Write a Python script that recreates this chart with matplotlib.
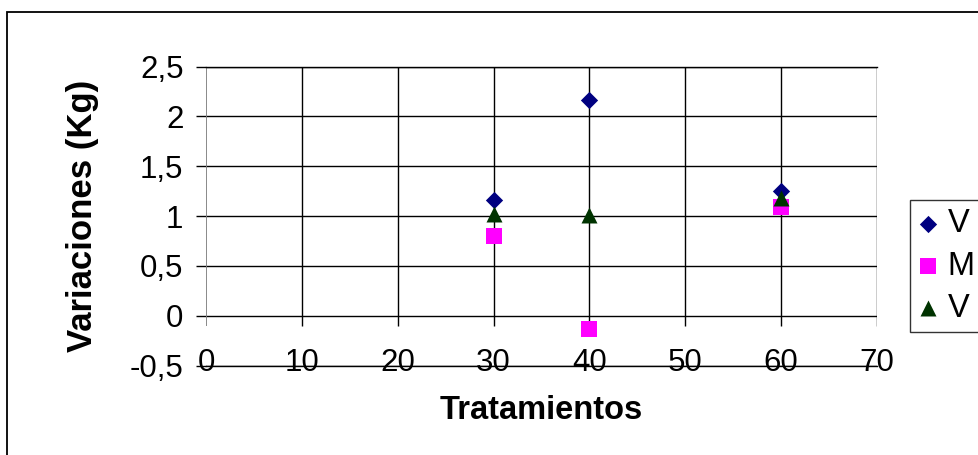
import matplotlib
matplotlib.use('Agg')
import matplotlib.pyplot as plt
from matplotlib.patches import Rectangle
from matplotlib.ticker import FuncFormatter

plt.rcParams['font.family'] = ['Liberation Sans', 'DejaVu Sans']

# Data
tratamientos = [30, 40, 60]
serie_v1 = [1.16, 2.16, 1.25]
serie_m = [0.80, -0.13, 1.09]
serie_v2 = [1.02, 1.01, 1.18]
series_labels = ['V', 'M', 'V']
x_ticks = [0, 10, 20, 30, 40, 50, 60, 70]
y_ticks = [-0.5, 0, 0.5, 1, 1.5, 2, 2.5]

fig = plt.figure(figsize=(9.79, 4.55), dpi=100)
ax = fig.add_axes([0.2104, 0.1967, 0.6854, 0.6571])

ax.set_xlim(0, 70)
ax.set_ylim(-0.5, 2.5)
ax.set_xticks(x_ticks)
ax.set_yticks(y_ticks)

fmt = FuncFormatter(lambda v, p: ('%g' % v).replace('.', ','))
ax.yaxis.set_major_formatter(fmt)
ax.xaxis.set_major_formatter(fmt)

# grid
ax.yaxis.grid(True, color='black', lw=1, zorder=1)
ax.set_axisbelow(True)
ax.vlines(x_ticks[1:], -0.1, 2.5, colors='black', lw=1, zorder=1)
ax.vlines(0, -0.1, 2.5, colors='#808080', lw=1.3, zorder=1)

for s in ['left', 'right']:
    ax.spines[s].set_visible(False)
for s in ['top', 'bottom']:
    ax.spines[s].set_color('black')
    ax.spines[s].set_linewidth(1)

ax.tick_params(axis='y', length=7.2, width=1, color='black', direction='out',
               labelsize=22.5, pad=9)
ax.tick_params(axis='x', length=0, labelsize=22.5, pad=-12.5)

ax.scatter(tratamientos, serie_v1, marker='D', s=8.8**2, color='#000080',
           label=series_labels[0], zorder=3, linewidths=0)
ax.scatter(tratamientos, serie_m, marker='s', s=11.3**2, color='#FF00FF',
           label=series_labels[1], zorder=4, linewidths=0)
ax.scatter(tratamientos, serie_v2, marker='^', s=11.5**2, color='#003300',
           label=series_labels[2], zorder=5, linewidths=0)

ax.set_xlabel('Tratamientos', fontsize=23.5, fontweight='bold', labelpad=12)
ax.set_ylabel('Variaciones (Kg)', fontsize=25, fontweight='bold', labelpad=22)

leg = fig.legend(loc='upper left', bbox_to_anchor=(910 / 979, 1 - 200 / 455),
                 fontsize=23.5, frameon=True, fancybox=False, edgecolor='black',
                 borderpad=0.25, labelspacing=0.35, handletextpad=0.3,
                 handlelength=0.6, borderaxespad=0)
leg.get_frame().set_linewidth(1)

fig.patches.append(Rectangle((7.5 / 979, -0.1), 1.2, 0.1 + 1 - 12.5 / 455,
                             transform=fig.transFigure, fill=False,
                             edgecolor='black', lw=1.3))

fig.savefig('out.png', dpi=100)
